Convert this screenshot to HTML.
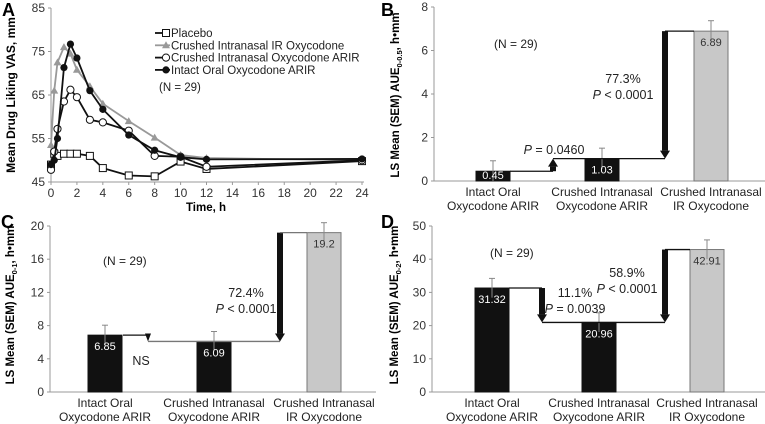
<!DOCTYPE html>
<html><head><meta charset="utf-8"><style>
body{margin:0;background:#fff}
svg{display:block;font-family:"Liberation Sans",Arial,sans-serif}
</style></head><body>
<svg id="s" width="765" height="424" viewBox="0 0 765 424"></svg>
<script>
// Panel A data
const timesA=[0,0.25,0.5,1,1.5,2,3,4,6,8,10,12,24];
const placebo=[49,51.5,51,51.5,51.5,51.5,51,48.2,46.5,46.3,49.7,48,49.8];
const irOxy=[53.5,66,72.5,76,74.5,70.8,67,63,59,55.2,51.2,50.5,50];
const crushedArir=[47.8,52,57.2,63.5,66.2,64.5,59.3,58.7,56.8,51,50.8,48.5,50];
const oralArir=[49,50,55,71.3,76.7,73.5,66,61.7,55.8,52.3,50.7,50.2,50.3];
const yTicksA=[45,55,65,75,85];
const xTicksA=[0,2,4,6,8,10,12,14,16,18,20,22,24];
// Bar panels data
const barsB=[0.45,1.03,6.89], semB=[0.48,0.48,0.48], ticksB=[0,2,4,6,8];
const barsC=[6.85,6.09,19.2], semC=[1.2,1.2,1.2], ticksC=[0,4,8,12,16,20];
const barsD=[31.32,20.96,42.91], semD=[2.9,2.9,2.9], ticksD=[0,10,20,30,40,50];
const cats=[["Intact Oral","Oxycodone ARIR"],["Crushed Intranasal","Oxycodone ARIR"],["Crushed Intranasal","IR Oxycodone"]];

const NS="http://www.w3.org/2000/svg", S=document.getElementById('s');
function el(t,a,txt){const e=document.createElementNS(NS,t);for(const k in a)e.setAttribute(k,a[k]);if(txt!=null)e.textContent=txt;S.appendChild(e);return e;}

// ---- Panel A ----
const ax=t=>51+t*(362-51)/24, ay=v=>182-(v-45)*(182-8)/40;
let e;
e=el('text',{x:2,y:16,'font-size':18,'font-weight':'bold'},'A');

e=el('line',{x1:51,y1:8,x2:51,y2:182,stroke:'#999'});

e=el('line',{x1:51,y1:182,x2:364,y2:182,stroke:'#999'});

yTicksA.forEach(v=>{
  el('line',{x1:48,y1:ay(v),x2:51,y2:ay(v),stroke:'#999'});
  e=el('text',{x:45,y:ay(v)+4,'font-size':12,'text-anchor':'end',fill:'#333'},v);
  
});
xTicksA.forEach(v=>{
  el('line',{x1:ax(v),y1:182,x2:ax(v),y2:185,stroke:'#999'});
  e=el('text',{x:ax(v),y:197,'font-size':12,'text-anchor':'middle',fill:'#333'},v);
  
});
e=el('text',{x:206,y:211,'font-size':11.5,'font-weight':'bold','text-anchor':'middle'},'Time, h');

e=el('text',{x:0,y:0,'font-size':12,'font-weight':'bold','text-anchor':'middle',transform:'translate(15,95) rotate(-90)'},'Mean Drug Liking VAS, mm');


function series(vals,color,marker,name){
  const pts=vals.map((v,i)=>ax(timesA[i])+','+ay(v)).join(' ');
  e=el('polyline',{points:pts,fill:'none',stroke:color,'stroke-width':1.8});
  
  vals.forEach((v,i)=>drawMarker(ax(timesA[i]),ay(v),marker,color,name));
}
function drawMarker(x,y,m,c,name){
  if(m==='sq')e=el('rect',{x:x-3.5,y:y-3.5,width:7,height:7,fill:'#fff',stroke:'#111','stroke-width':1});
  else if(m==='tri')e=el('polygon',{points:`${x},${y-4} ${x-4},${y+3} ${x+4},${y+3}`,fill:'#999'});
  else if(m==='oc')e=el('circle',{cx:x,cy:y,r:3.6,fill:'#fff',stroke:'#111','stroke-width':1});
  else e=el('circle',{cx:x,cy:y,r:3.6,fill:'#111'});
  
}
series(placebo,'#111','sq','placebo');
series(irOxy,'#999','tri','crushed-ir');
series(crushedArir,'#111','oc','crushed-arir');
series(oralArir,'#111','fc','oral-arir');

const leg=[['Placebo','sq','#111'],['Crushed Intranasal IR Oxycodone','tri','#999'],['Crushed Intranasal Oxycodone ARIR','oc','#111'],['Intact Oral Oxycodone ARIR','fc','#111']];
leg.forEach((l,i)=>{
  const y=33+i*12.3;
  e=el('line',{x1:155,y1:y,x2:170,y2:y,stroke:l[2],'stroke-width':1.8});
  
  drawMarker(166,y,l[1],l[2],'legend');
  e=el('text',{x:171,y:y+4,'font-size':11.5,fill:'#222'},l[0]);
  
});
e=el('text',{x:159,y:91,'font-size':11.5,fill:'#222'},'(N = 29)');


// ---- Bar panels ----
function barPanel(o){
  const {vals,sem,ticks,x0,y0,yTop,xEnd,bx,letter,ltx,lty,sub,titleX,titleY,nx,ny,p}=o;
  const max=ticks[ticks.length-1];
  const Y=v=>y0-v*(y0-yTop)/max;
  e=el('text',{x:ltx,y:lty,'font-size':18,'font-weight':'bold'},letter);
  
  e=el('line',{x1:x0,y1:yTop,x2:x0,y2:y0,stroke:'#999'});
  
  e=el('line',{x1:x0,y1:y0,x2:xEnd,y2:y0,stroke:'#999'});
  
  ticks.forEach(v=>{
    el('line',{x1:x0-3,y1:Y(v),x2:x0,y2:Y(v),stroke:'#999'});
    e=el('text',{x:x0-6,y:Y(v)+4,'font-size':12,'text-anchor':'end',fill:'#333'},v);
    
  });
  const t=el('text',{x:0,y:0,'font-size':11.5,'font-weight':'bold','text-anchor':'middle',transform:`translate(${titleX},${titleY}) rotate(-90)`});
  
  t.innerHTML=`LS Mean (SEM) AUE<tspan font-size="7.5" dy="3">${sub}</tspan><tspan dy="-3">, h•mm</tspan>`;
  e=el('text',{x:nx,y:ny,'font-size':12,fill:'#222'},'(N = 29)');
  
  const w=34;
  vals.forEach((v,i)=>{
    const x=bx[i];
    e=el('rect',{x:x,y:Y(v),width:w,height:y0-Y(v),fill:i<2?'#111':'#c8c8c8',stroke:i<2?'#111':'#777'});
    
    const cx=x+w/2;
    e=el('line',{x1:cx,y1:Y(v+sem[i]),x2:cx,y2:Y(Math.max(0,v-sem[i])),stroke:'#888'});
    
    el('line',{x1:cx-3,y1:Y(v+sem[i]),x2:cx+3,y2:Y(v+sem[i]),stroke:'#888'});
    e=el('text',{x:cx,y:Y(v)+15,'font-size':11,'text-anchor':'middle',fill:i<2?'#fff':'#333'},v);
    if(y0-Y(v)<16){e.setAttribute('y',y0-2);}
    
    cats[i].forEach((s,j)=>{
      e=el('text',{x:cx,y:y0+15+j*14,'font-size':12,'text-anchor':'middle',fill:'#222'},s);
      
    });
  });
  return Y;
}
function arrow(x,yFrom,yTo,name,thin){
  const dir=yTo>yFrom?1:-1, hw=thin?3:5, h=8;
  if(Math.abs(yTo-yFrom)>h+1){
    e=el('rect',{x:x-3,y:Math.min(yFrom,yTo-dir*h),width:6,height:Math.abs(yTo-dir*h-yFrom),fill:'#111'});
    
  }
  e=el('polygon',{points:`${x-hw},${yTo-dir*h} ${x+hw},${yTo-dir*h} ${x},${yTo}`,fill:'#111'});
  
}
function hline(x1,x2,y,name,c){e=el('line',{x1:x1,y1:y,x2:x2,y2:y,stroke:c||'#111','stroke-width':1.3});}
function label(x,y,lines,name){lines.forEach((l,i)=>{e=el('text',{x:x,y:y+i*16,'font-size':12.5,'text-anchor':'middle',fill:'#222'});e.innerHTML=l;});}

// B
let Y=barPanel({vals:barsB,sem:semB,ticks:ticksB,x0:434,y0:181,yTop:7,xEnd:765,bx:[476,585,694],letter:'B',ltx:381,lty:16,sub:'0-0.5',titleX:399,titleY:95,nx:494,ny:48,p:'b'});
hline(510,553,Y(barsB[0]),'b-connector-1');
arrow(553,Y(barsB[0]),Y(barsB[1]),'b-arrow-1');
hline(553,665,Y(barsB[1]),'b-connector-2');
arrow(665,Y(barsB[2]),Y(barsB[1]),'b-arrow-2');
hline(665,694,Y(barsB[2]),'b-connector-3');
label(554,154,['<tspan font-style="italic">P</tspan> = 0.0460'],'b-p-label');
label(623,83,['77.3%','<tspan font-style="italic">P</tspan> &lt; 0.0001'],'b-pct-label');

// C
Y=barPanel({vals:barsC,sem:semC,ticks:ticksC,x0:50,y0:392,yTop:226,xEnd:376,bx:[88,197,307],letter:'C',ltx:1,lty:228,sub:'0-1',titleX:14,titleY:305,nx:103,ny:265,p:'c'});
hline(123,148,Y(barsC[0]),'c-connector-1');
arrow(148,Y(barsC[0]),Y(barsC[1]),'c-arrow-1',true);
hline(148,280,Y(barsC[1]),'c-connector-2','#777');
arrow(280,Y(barsC[2]),Y(barsC[1]),'c-arrow-2');
hline(280,307,Y(barsC[2]),'c-connector-3','#777');
label(141,365,['NS'],'c-ns-label');
label(246,297,['72.4%','<tspan font-style="italic">P</tspan> &lt; 0.0001'],'c-pct-label');

// D
Y=barPanel({vals:barsD,sem:semD,ticks:ticksD,x0:432,y0:392,yTop:226,xEnd:765,bx:[475,582,690],letter:'D',ltx:381,lty:228,sub:'0-2',titleX:398,titleY:305,nx:490,ny:257,p:'d'});
hline(509,542,Y(barsD[0]),'d-connector-1');
arrow(542,Y(barsD[0]),Y(barsD[1]),'d-arrow-1');
hline(542,665,Y(barsD[1]),'d-connector-2');
arrow(665,Y(barsD[2]),Y(barsD[1]),'d-arrow-2');
hline(665,690,Y(barsD[2]),'d-connector-3');
label(575,297,['11.1%','<tspan font-style="italic">P</tspan> = 0.0039'],'d-p-label');
label(627,277,['58.9%','<tspan font-style="italic">P</tspan> &lt; 0.0001'],'d-pct-label');
</script>
</body></html>
